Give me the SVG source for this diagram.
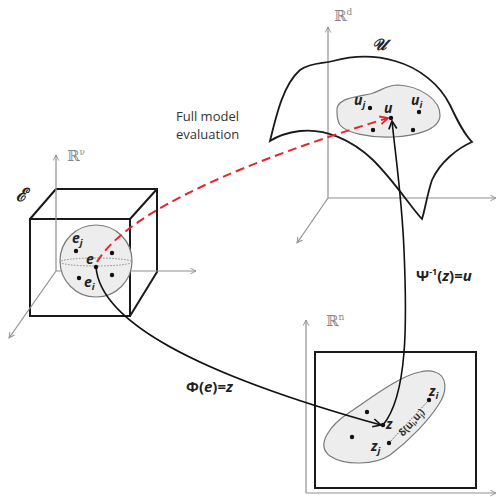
<svg xmlns="http://www.w3.org/2000/svg" width="498" height="497" viewBox="0 0 498 497">
<style>
.axis{stroke:#8f8f8f;stroke-width:1.2;fill:none}
.edge{stroke:#1a1a1a;stroke-width:2;fill:none}
.surf{stroke:#1a1a1a;stroke-width:1.8;fill:none}
.blob{fill:#ededed;stroke:#7a7a7a;stroke-width:1.2}
.dot{fill:#111}
.lbl{font-family:"Open Sans","Liberation Sans",sans-serif;font-weight:bold;font-style:italic;font-size:14px;fill:#222}
.sub{font-size:9.5px}
.bb{font-family:"DejaVu Serif","Liberation Serif",serif;font-size:15px;fill:#888}
.txt{font-family:"Open Sans","Liberation Sans",sans-serif;font-size:13px;fill:#333}
.fx{font-family:"Open Sans","Liberation Sans",sans-serif;font-size:15px;fill:#222;font-weight:bold}
.conn{stroke:#111;stroke-width:1.6;fill:none}
.red{stroke:#e3262b;stroke-width:2;fill:none;stroke-dasharray:9 5}
</style>
<defs>
<marker id="ax" viewBox="0 0 10 10" refX="9" refY="5" markerWidth="7" markerHeight="7" orient="auto" markerUnits="userSpaceOnUse">
<path d="M1,1 L9,5 L1,9" fill="none" stroke="#8f8f8f" stroke-width="1.3"/>
</marker>
<marker id="ab" viewBox="0 0 10 10" refX="9" refY="5" markerWidth="10" markerHeight="10" orient="auto" markerUnits="userSpaceOnUse">
<path d="M1,1 L9,5 L1,9" fill="none" stroke="#111" stroke-width="1.6"/>
</marker>
<marker id="ar" viewBox="0 0 10 10" refX="9" refY="5" markerWidth="10" markerHeight="10" orient="auto" markerUnits="userSpaceOnUse">
<path d="M1,1 L9,5 L1,9" fill="none" stroke="#e3262b" stroke-width="1.8"/>
</marker>
</defs>
<rect width="498" height="497" fill="#fff"/>

<g id="space-E">
<path class="edge" d="M56,189 L157,189 L157,272 L130,316 M56,189 L30,219 M157,189 L130,219"/>
<rect class="edge" x="30" y="219" width="100" height="97"/>
<path class="axis" d="M56,271 L56,155" marker-end="url(#ax)"/>
<path class="axis" d="M56,271 L196,271" marker-end="url(#ax)"/>
<path class="axis" d="M56,271 L9,338" marker-end="url(#ax)"/>
<text class="bb" x="67" y="161">ℝ<tspan font-size="9" dy="-6">ν</tspan></text>
<text x="16" y="201" font-family="DejaVu Serif,serif" font-style="italic" font-weight="bold" font-size="18" fill="#222">ℰ</text>
<circle class="blob" cx="96" cy="261" r="36"/>
<ellipse cx="96" cy="262" rx="36" ry="4" fill="none" stroke="#888" stroke-width="1" stroke-dasharray="1.5 1.5"/>
<circle class="dot" cx="76" cy="251" r="2.2"/>
<circle class="dot" cx="112" cy="253" r="2.2"/>
<circle class="dot" cx="96" cy="267" r="2.2"/>
<circle class="dot" cx="79" cy="278" r="2.2"/>
<circle class="dot" cx="112" cy="275" r="2.2"/>
<text class="lbl" x="72" y="243">e<tspan class="sub" dy="3">j</tspan></text>
<text class="lbl" x="86" y="264">e</text>
<text class="lbl" x="84" y="287">e<tspan class="sub" dy="3">i</tspan></text>
</g>

<g id="space-U">
<path class="axis" d="M328,198 L328,27" marker-end="url(#ax)"/>
<path class="axis" d="M328,198 L496,198" marker-end="url(#ax)"/>
<path class="axis" d="M328,198 L297,243" marker-end="url(#ax)"/>
<text class="bb" x="334" y="21">ℝ<tspan font-size="9" dy="-6">d</tspan></text>
<path class="surf" d="M270,141 C 277,112 284,84 300,70 C 312,62 322,64 333,61 C 355,55 375,55 395,61 C 420,68 440,85 450,105 C 458,122 464,134 472,142 C 458,148 440,162 432,180 C 427,195 425,210 422,219 C 410,206 395,182 373,160 C 352,140 325,128 300,131 C 285,133 276,137 270,141 Z"/>
<text x="372" y="50" font-family="DejaVu Serif,serif" font-style="italic" font-weight="bold" font-size="16" fill="#222">𝒰</text>
<path class="blob" d="M337,112 C 335,98 356,97 370,94 C 380,92 385,85 398,85 C 420,86 441,100 440,116 C 439,130 415,136 393,137 C 370,138 346,133 340,125 C 337,120 337,116 337,112 Z"/>
<circle class="dot" cx="370" cy="108" r="2.2"/>
<circle class="dot" cx="391" cy="118" r="2.2"/>
<circle class="dot" cx="419" cy="112" r="2.2"/>
<circle class="dot" cx="373" cy="130" r="2.2"/>
<circle class="dot" cx="413" cy="130" r="2.2"/>
<text class="lbl" x="354" y="105">u<tspan class="sub" dy="3">j</tspan></text>
<text class="lbl" x="384" y="113">u</text>
<text class="lbl" x="411" y="105">u<tspan class="sub" dy="3">i</tspan></text>
</g>

<g id="space-Z">
<path class="axis" d="M306,493 L306,320" marker-end="url(#ax)"/>
<path class="axis" d="M306,493 L496,493" marker-end="url(#ax)"/>
<text class="bb" x="326" y="326">ℝ<tspan font-size="9" dy="-6">n</tspan></text>
<rect class="edge" x="315" y="352" width="161" height="136"/>
<path class="blob" d="M435,372 C 448,376 447,392 439,404 C 429,420 410,440 390,455 C 375,465 345,466 330,456 C 315,445 330,425 350,412 C 375,395 400,376 420,372 C 428,370 432,371 435,372 Z"/>
<line x1="389" y1="443" x2="429" y2="400" stroke="#555" stroke-width="1" stroke-dasharray="1.5 1.5"/>
<circle class="dot" cx="367" cy="412" r="2.2"/>
<circle class="dot" cx="352" cy="437" r="2.2"/>
<circle class="dot" cx="389" cy="443" r="2.2"/>
<circle class="dot" cx="429" cy="400" r="2.2"/>
<circle class="dot" cx="383" cy="425" r="2.2"/>
<text class="lbl" x="429" y="396">z<tspan class="sub" dy="3">i</tspan></text>
<text class="lbl" x="386" y="429">z</text>
<text class="lbl" x="371" y="451">z<tspan class="sub" dy="3">j</tspan></text>
<text transform="translate(403,437) rotate(-48)" font-family="Open Sans,Liberation Sans,sans-serif" font-size="10" font-weight="bold" fill="#333">δ(u<tspan font-size="6.5" dy="2">i</tspan><tspan dy="-2">,u</tspan><tspan font-size="6.5" dy="2">j</tspan><tspan dy="-2">)</tspan></text>
</g>

<g id="connectors">
<path class="red" d="M97,262 C 128,210 250,160 388,118" marker-end="url(#ar)"/>
<path class="conn" d="M96,267 C 100,320 190,372 381,425" marker-end="url(#ab)"/>
<path class="conn" d="M383,425 C 408,395 407,320 404,250 C 402,200 396,160 392,121" marker-end="url(#ab)"/>
</g>

<g id="labels">
<text class="txt" x="176" y="121">Full model</text>
<text class="txt" x="176" y="139">evaluation</text>
<text class="fx" x="186" y="392">Φ(<tspan font-style="italic">e</tspan>)=<tspan font-style="italic">z</tspan></text>
<text class="fx" x="416" y="281">Ψ<tspan font-size="9" dy="-6">-1</tspan><tspan dy="6">(</tspan><tspan font-style="italic">z</tspan>)=<tspan font-style="italic">u</tspan></text>
</g>
</svg>
